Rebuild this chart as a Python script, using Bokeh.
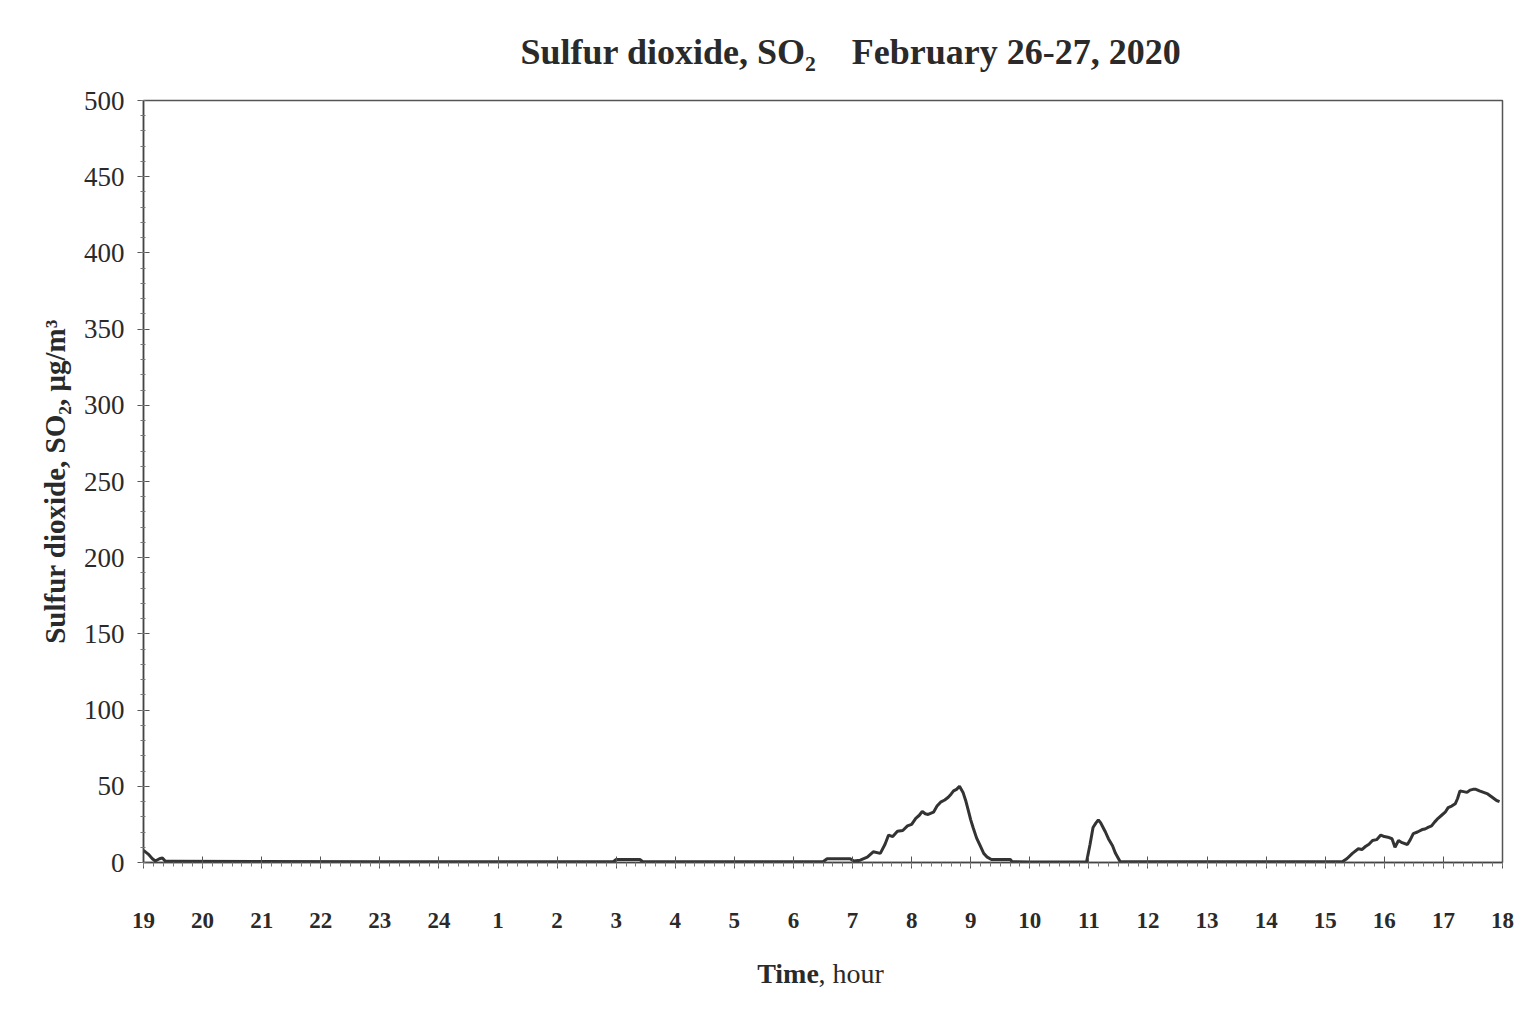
from bokeh.plotting import figure
from bokeh.models import Range1d, FixedTicker, SingleIntervalTicker, Title
from bokeh.embed import file_html
from bokeh.resources import INLINE

# elapsed hours since 19:00 on February 26
elapsed_h = [0.00, 0.08, 0.15, 0.20, 0.27, 0.32, 0.37, 0.5, 2.0, 4.0, 6.0, 7.95,
             8.00, 8.40, 8.45, 10.0, 11.50, 11.57, 11.96, 12.02, 12.13, 12.25, 12.35,
             12.47, 12.55, 12.61, 12.68, 12.76, 12.85, 12.93, 13.00, 13.07, 13.13,
             13.18, 13.23, 13.28, 13.37, 13.43, 13.49, 13.56, 13.62, 13.67, 13.71,
             13.76, 13.81, 13.87, 13.92, 13.96, 14.00, 14.04, 14.10, 14.16, 14.22,
             14.28, 14.35, 14.67, 14.70, 15.0, 15.96, 16.02, 16.07, 16.12, 16.16,
             16.20, 16.24, 16.28, 16.33, 16.40, 16.45, 16.53, 17.0, 19.0, 20.29,
             20.37, 20.46, 20.56, 20.62, 20.68, 20.74, 20.80, 20.87, 20.94, 21.00,
             21.06, 21.13, 21.18, 21.24, 21.30, 21.39, 21.44, 21.49, 21.56, 21.64,
             21.69, 21.74, 21.80, 21.85, 21.91, 21.97, 22.03, 22.08, 22.14, 22.20,
             22.24, 22.28, 22.34, 22.40, 22.45, 22.50, 22.55, 22.61, 22.68, 22.75,
             22.82, 22.90, 22.95]
so2 = [8, 5.5, 2.5, 1, 2.5, 3, 0.8, 0.8, 0.6, 0.5, 0.5, 0.5,
       2, 2, 0.5, 0.5, 0.5, 2.5, 2.5, 1, 1.5, 3.5, 7,
       6, 12, 18, 17, 20.5, 21, 24, 25, 29, 31,
       33.6, 32, 31.5, 33, 37, 39.6, 41, 42.8, 45, 47,
       48, 50, 46, 40, 34, 28, 23, 16, 11, 6,
       3.5, 2, 2, 0.5, 0.3, 0.3, 12, 23, 26, 28,
       26, 23, 20, 15.6, 11, 6, 0.5, 0.5, 0.5, 0.5,
       2.6, 6, 9, 8.5, 10.5, 12, 14.4, 15, 18, 17,
       16.6, 15.6, 10, 14.4, 13, 11.8, 15, 19, 20, 21.6,
       22, 23, 24, 26.5, 29, 31, 33, 36, 37, 38.5,
       42, 47, 46.5, 46, 47.5, 48, 48, 47, 46, 45,
       43, 40.7, 40]

hour_ticks = list(range(24))
hour_labels = ["19", "20", "21", "22", "23", "24", "1", "2", "3", "4", "5", "6",
               "7", "8", "9", "10", "11", "12", "13", "14", "15", "16", "17", "18"]
minor_positions = [i / 6 for i in range(23 * 6 + 1)]

FONT = "Liberation Serif"
INK = "#2a2a2a"
NB = "\u00a0"

W, H = 1523, 1000
FL, FR, FT, FB = 143, 1502, 100, 862   # frame edges on the canvas
p = figure(width=W, height=H, output_backend="svg", toolbar_location=None,
           x_range=Range1d(0, 23), y_range=Range1d(0, 500),
           min_border_left=FL, min_border_right=W - FR, min_border_top=FT,
           min_border_bottom=H - FB)
p.background_fill_color = "white"
p.border_fill_color = "white"
p.outline_line_color = "#555555"
p.outline_line_width = 1.5
p.xgrid.visible = False
p.ygrid.visible = False

p.title = Title(text="Sulfur dioxide, SO\u2082" + NB * 4 + "February 26-27, 2020",
                text_font=FONT, text_font_style="bold", text_font_size="36px",
                text_color=INK, align="left", offset=520 - FL, standoff=58)

p.line(elapsed_h, so2, line_color="#333333", line_width=3)

# x axis
xa = p.xaxis[0]
xa.ticker = FixedTicker(ticks=hour_ticks, minor_ticks=minor_positions)
xa.major_label_overrides = {t: lab for t, lab in zip(hour_ticks, hour_labels)}
xa.major_label_text_font = FONT
xa.major_label_text_font_style = "bold"
xa.major_label_text_font_size = "23px"
xa.major_label_text_color = INK
xa.major_label_standoff = 44
xa.axis_line_color = "#444444"
xa.axis_line_width = 1.5
xa.major_tick_in = 6
xa.major_tick_out = 6
xa.minor_tick_in = 0
xa.minor_tick_out = 4
xa.major_tick_line_color = "#555555"
xa.minor_tick_line_color = "#777777"
# bold "Time" (padded so that it ends where ", hour" begins)
xa.axis_label = "Time" + NB * 10
xa.axis_label_text_font = FONT
xa.axis_label_text_font_style = "bold"
xa.axis_label_text_font_size = "28px"
xa.axis_label_text_color = INK
xa.axis_label_standoff = 27

# y axis
ya = p.yaxis[0]
ya.ticker = SingleIntervalTicker(interval=50, num_minor_ticks=5)
ya.major_label_text_font = FONT
ya.major_label_text_font_size = "27px"
ya.major_label_text_color = INK
ya.major_label_standoff = 13
ya.axis_line_color = "#444444"
ya.axis_line_width = 1.5
ya.major_tick_in = 6
ya.major_tick_out = 6
ya.minor_tick_in = 2
ya.minor_tick_out = 3
ya.major_tick_line_color = "#555555"
ya.minor_tick_line_color = "#777777"
ya.axis_label = "Sulfur dioxide, SO\u2082, \u03bcg/m\u00b3"
ya.axis_label_text_font = FONT
ya.axis_label_text_font_style = "bold"
ya.axis_label_text_font_size = "29px"
ya.axis_label_text_color = INK
ya.axis_label_standoff = 10

# regular ", hour" pulled up onto the axis-label line
t_hour = Title(text=", hour", text_font=FONT, text_font_style="normal",
               text_font_size="28px", text_color=INK, align="left",
               offset=818 - FL, vertical_align="top", standoff=-68)
p.add_layout(t_hour, "below")

open("out.html", "w").write(file_html(p, INLINE))
